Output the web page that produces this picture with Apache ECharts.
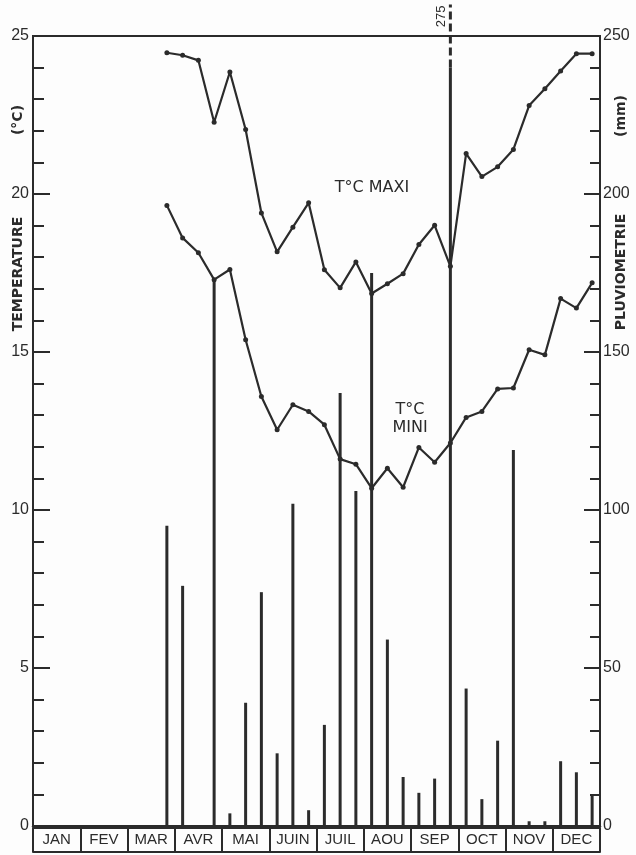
<!DOCTYPE html>
<html>
<head>
<meta charset="utf-8">
<style>
  html, body { margin: 0; padding: 0; background: #fdfdfd; }
  #main { width: 636px; height: 855px; }
</style>
<script src="https://cdn.jsdelivr.net/npm/echarts@6/dist/echarts.min.js"></script>
</head>
<body>
<div id="main"></div>
<script>
var months = ["JAN", "FEV", "MAR", "AVR", "MAI", "JUIN", "JUIL", "AOU", "SEP", "OCT", "NOV", "DEC"];
var dekads = [];
months.forEach(function (m) { dekads.push(m + " 1", m + " 2", m + " 3"); });

// pluviometrie par decade (mm)
var rain = [0, 0, 0, 0, 0, 0, 0, 0, 95,
  76, 0, 173, 4, 39, 74, 23, 102, 5,
  32, 137, 106, 175, 59, 15.5, 10.5, 15, 275,
  43.5, 8.5, 27, 119, 1.5, 1.5, 20.5, 17, 9.5];

// temperatures par decade (°C), rien avant fin mars
var tMax = [null, null, null, null, null, null, null, null, 24.47,
  24.39, 24.23, 22.27, 23.86, 22.04, 19.4, 18.17, 18.95, 19.72,
  17.6, 17.03, 17.85, 16.85, 17.16, 17.48, 18.4, 19.01, 17.71,
  21.28, 20.55, 20.86, 21.41, 22.8, 23.33, 23.89, 24.44, 24.44];
var tMin = [null, null, null, null, null, null, null, null, 19.64,
  18.61, 18.14, 17.29, 17.61, 15.39, 13.59, 12.54, 13.33, 13.12,
  12.7, 11.61, 11.45, 10.69, 11.32, 10.72, 11.98, 11.51, 12.12,
  12.93, 13.12, 13.83, 13.86, 15.07, 14.91, 16.69, 16.39, 17.19];

var ink = "#2b2b2b";
var chart = echarts.init(document.getElementById("main"));

function renderRain(params, api) {
  var v = api.value(1);
  if (!v) return;
  var i = api.value(0);
  var base = api.coord([i, 0]);
  var solid = { stroke: ink, lineWidth: 3 };
  if (v <= 250) {
    var top = api.coord([i, v]);
    return { type: "line", shape: { x1: base[0], y1: base[1], x2: top[0], y2: top[1] }, style: solid };
  }
  // hors echelle : trait plein puis pointilles + valeur
  var cut = api.coord([i, 240]);
  var end = api.coord([i, 260]);
  return {
    type: "group",
    children: [
      { type: "line", shape: { x1: base[0], y1: base[1], x2: cut[0], y2: cut[1] }, style: solid },
      { type: "line", shape: { x1: cut[0], y1: cut[1], x2: end[0], y2: end[1] },
        style: { stroke: ink, lineWidth: 3, lineDash: [8, 4] } },
      { type: "text", x: end[0] - 9, y: end[1] + 12, rotation: Math.PI / 2,
        style: { text: String(v), fill: ink, fontSize: 13, fontFamily: "Liberation Sans",
          align: "center", verticalAlign: "middle" } }
    ]
  };
}

var tickStyle = { color: ink, width: 2 };
var vText = function (txt, x, y) {
  return { type: "text", x: x, y: y, rotation: Math.PI / 2,
    style: { text: txt, fill: ink, fontSize: 14, fontWeight: "bold", fontFamily: "DejaVu Sans",
      align: "center", verticalAlign: "middle" } };
};
var hText = function (txt, x, y) {
  return { type: "text", x: x, y: y,
    style: { text: txt, fill: ink, fontSize: 16, fontFamily: "DejaVu Sans",
      align: "center", verticalAlign: "middle" } };
};

chart.setOption({
  backgroundColor: "#fdfdfd",
  animation: false,
  textStyle: { fontFamily: "Liberation Sans", color: ink },
  grid: [
    { left: 33, right: 36, top: 36, bottom: 29, show: true, borderColor: ink, borderWidth: 2 },
    { left: 33, right: 36, top: 828, height: 24 }
  ],
  xAxis: [
    { type: "category", data: dekads, boundaryGap: true,
      axisLine: { lineStyle: { color: ink, width: 2.5 } },
      axisTick: { show: false }, axisLabel: { show: false } },
    { type: "category", gridIndex: 1, data: months, boundaryGap: true, position: "bottom",
      axisLine: { lineStyle: { color: ink, width: 2 } },
      axisTick: { show: true, inside: true, length: 24, interval: 0, lineStyle: tickStyle },
      axisLabel: { inside: true, interval: 0, margin: 5, fontSize: 15, color: ink } },
    { type: "category", gridIndex: 1, data: months, position: "top",
      axisLine: { lineStyle: { color: ink, width: 2 } },
      axisTick: { show: false }, axisLabel: { show: false } }
  ],
  yAxis: [
    { type: "value", min: 0, max: 25, interval: 5, position: "left",
      axisLine: { show: true, lineStyle: { color: ink, width: 2 } },
      axisTick: { show: true, inside: true, length: 17, lineStyle: tickStyle },
      minorTick: { show: true, splitNumber: 5, length: 11, lineStyle: tickStyle },
      splitLine: { show: false },
      axisLabel: { fontSize: 16, color: ink, margin: 4 } },
    { type: "value", min: 0, max: 250, interval: 50, position: "right",
      axisLine: { show: true, lineStyle: { color: ink, width: 2 } },
      axisTick: { show: true, inside: true, length: 16, lineStyle: tickStyle },
      minorTick: { show: true, splitNumber: 5, length: 10, lineStyle: tickStyle },
      splitLine: { show: false },
      axisLabel: { fontSize: 16, color: ink, margin: 3 } },
    { type: "value", gridIndex: 1, show: false }
  ],
  series: [
    { name: "Pluviometrie", type: "custom", xAxisIndex: 0, yAxisIndex: 1,
      renderItem: renderRain, encode: { x: 0, y: 1 },
      data: rain.map(function (v, i) { return [i, v]; }) },
    { name: "T°C MAXI", type: "line", xAxisIndex: 0, yAxisIndex: 0, data: tMax,
      symbol: "circle", symbolSize: 5, itemStyle: { color: ink },
      lineStyle: { color: ink, width: 2.2 } },
    { name: "T°C MINI", type: "line", xAxisIndex: 0, yAxisIndex: 0, data: tMin,
      symbol: "circle", symbolSize: 5, itemStyle: { color: ink },
      lineStyle: { color: ink, width: 2.2 } }
  ],
  graphic: [
    vText("TEMPERATURE", 18, 274),
    vText("(°C)", 18, 120),
    vText("PLUVIOMETRIE", 621, 272),
    vText("(mm)", 621, 116),
    hText("T°C MAXI", 372, 188),
    hText("T°C", 410, 410),
    hText("MINI", 410, 428)
  ]
});
</script>
</body>
</html>
